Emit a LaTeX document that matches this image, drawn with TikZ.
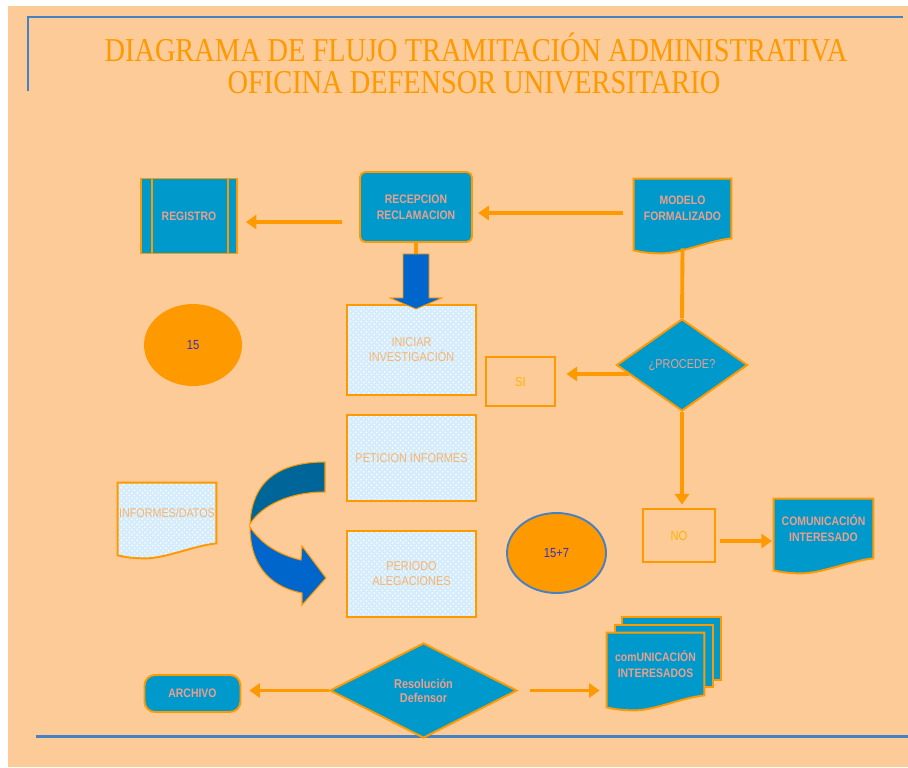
\documentclass[tikz,border=0pt]{standalone}
\usepackage{fontspec}
\setmainfont{Liberation Serif}
\newfontfamily\titlefont[FakeStretch=0.85]{Liberation Serif}
\newfontfamily\boxfont[FakeStretch=0.85]{Liberation Sans}
\usetikzlibrary{calc,positioning,shapes.geometric,arrows.meta,patterns,backgrounds}
\definecolor{peach}{RGB}{253,203,151}
\definecolor{flowor}{RGB}{255,153,0}
\definecolor{boxblue}{RGB}{0,153,204}
\definecolor{deepblue}{RGB}{0,102,153}
\definecolor{arrowblue}{RGB}{0,102,204}
\definecolor{rulerblue}{RGB}{70,130,195}
\definecolor{paleblue}{RGB}{212,236,251}
\definecolor{salmon}{RGB}{235,160,140}
\definecolor{lighttext}{RGB}{248,180,110}
\definecolor{yesno}{RGB}{255,180,0}
\definecolor{numblue}{RGB}{50,50,200}
% document outline with a wavy bottom, taken from a node's anchors
\newcommand{\docpath}[1]{(#1.north west) -- (#1.north east) -- (#1.south east)
  .. controls +(-25,3) and +(20,0) .. ($(#1.south west)+(28,15)$)
  .. controls +(-12,0) and +(8,2) .. ($(#1.south west)+(0,12)$) -- cycle}

\begin{document}
\begin{tikzpicture}[x=0.02cm, y=-0.02cm,
    flowline/.style={draw=flowor, line width=2.2pt},
    flowarrow/.style={flowline, -{Triangle[length=6pt,width=8pt]}},
    rule/.style={draw=rulerblue, line width=1.7pt},
    bluebox/.style={draw=flowor, line width=1.1pt, fill=boxblue, text=salmon,
      font=\boxfont\bfseries\fontsize{7}{9}\selectfont, align=center, inner sep=0pt},
    lightbox/.style={draw=flowor, line width=1.1pt, preaction={fill=paleblue},
      pattern=crosshatch dots, pattern color=white, text=lighttext,
      font=\boxfont\fontsize{7.3}{8.5}\selectfont, align=center, inner sep=0pt},
    doctext/.style={inner sep=0pt, align=center, text=salmon,
      font=\boxfont\bfseries\fontsize{7}{9}\selectfont},
    docblue/.style={draw=flowor, line width=1.1pt, fill=boxblue},
    doclight/.style={draw=flowor, line width=1.1pt, preaction={fill=paleblue},
      pattern=crosshatch dots, pattern color=white},
    emptybox/.style={draw=flowor, line width=1.1pt, text=yesno,
      font=\boxfont\fontsize{7.5}{9}\selectfont, inner sep=0pt},
    decision/.style={diamond, draw=flowor, line width=1.1pt, fill=boxblue, inner sep=0pt,
      text=salmon, align=center, font=\boxfont\fontsize{7.3}{8}\selectfont},
    daybubble/.style={ellipse, fill=flowor, inner sep=0pt, text=numblue,
      font=\boxfont\fontsize{7.5}{9}\selectfont},
    titlestyle/.style={text=flowor, inner sep=0pt, font=\titlefont\fontsize{19}{19}\selectfont}]
\useasboundingbox (0,0) rectangle (908,767);
\begin{scope}[on background layer]
    \fill[white] (0,0) rectangle (908,767);
    \fill[peach] (8,6) rectangle (908,767);
\end{scope}
% frame lines
\draw[rule] (28,91) -- (28,17) -- (903,17);
\draw[rule] (36,736) -- (908,736);
% title
\node[titlestyle, anchor=base] (titulo) at (476,62) {DIAGRAMA DE FLUJO TRAMITACIÓN ADMINISTRATIVA};
\node[titlestyle, anchor=base] (subtitulo) at (474,93) {OFICINA DEFENSOR UNIVERSITARIO};

% top row
\node[bluebox, minimum width=1.92cm, minimum height=1.5cm] (registro) at (189,216) {REGISTRO};
\draw[flowor, line width=1.1pt] ([xshift=0.24cm]registro.north west) -- ([xshift=0.24cm]registro.south west)
    ([xshift=-0.2cm]registro.north east) -- ([xshift=-0.2cm]registro.south east);
\node[bluebox, rounded corners=3pt, minimum width=2.24cm, minimum height=1.4cm] (recepcion) at (416,207) {RECEPCION\\RECLAMACION};
\node[doctext, minimum width=1.94cm, minimum height=1.18cm] (modelo) at (682.5,208.5) {MODELO\\FORMALIZADO};

% middle column
\node[lightbox, minimum width=2.58cm, minimum height=1.8cm] (iniciar) at (411.5,350) {INICIAR\\INVESTIGACIÓN};
\node[lightbox, minimum width=2.58cm, minimum height=1.72cm, below=0.36cm of iniciar] (peticion) {PETICION INFORMES};
\node[lightbox, minimum width=2.58cm, minimum height=1.72cm, below=0.56cm of peticion] (periodo) {PERIODO\\ALEGACIONES};

\node[daybubble, minimum width=1.96cm, minimum height=1.64cm] (quince) at (193,345) {15};
\node[daybubble, draw=rulerblue, line width=1.1pt, minimum width=1.98cm, minimum height=1.6cm] (plazo) at (556.5,553) {15+7};
\node[doctext, text=lighttext, font=\boxfont\fontsize{7.2}{8}\selectfont, minimum width=1.96cm, minimum height=1.2cm] (informes) at (167,513) {INFORMES/DATOS};

% right branch
\node[decision, minimum width=2.62cm, minimum height=1.84cm] (procede) at (682,365) {¿PROCEDE?};
\node[emptybox, minimum width=1.38cm, minimum height=0.98cm] (si) at (520.5,381.5) {SI};
\node[emptybox, minimum width=1.44cm, minimum height=1.06cm] (no) at (679,535.5) {NO};
\node[doctext, minimum width=1.98cm, minimum height=1.18cm] (comunicado) at (823.5,528.5) {COMUNICACIÓN\\INTERESADO};

% bottom row
\node[decision, font=\boxfont\bfseries\fontsize{7.3}{8}\selectfont, minimum width=3.74cm, minimum height=1.9cm] (resolucion) at (423.5,690.5) {Resolución\\Defensor};
\node[bluebox, rounded corners=6pt, minimum width=1.92cm, minimum height=0.74cm] (archivo) at (192.5,693.5) {ARCHIVO};
\node[doctext, minimum width=1.94cm, minimum height=1.24cm] (multidoc) at (655.5,664) {comUNICACIÓN\\INTERESADOS};

% document outlines behind their texts
\begin{scope}[on background layer]
    \draw[docblue] \docpath{modelo};
    \draw[doclight] \docpath{informes};
    \draw[docblue] \docpath{comunicado};
    \draw[docblue] ($(multidoc.north west)+(15,-16)$) rectangle ($(multidoc.north east)+(17,47)$);
    \draw[docblue] ($(multidoc.north west)+(8,-8)$) rectangle ($(multidoc.north east)+(9,54)$);
    \draw[docblue] \docpath{multidoc};
\end{scope}

% connectors
\coordinate (modelo out) at ([shift={(-11,4.5)}]modelo.west);
\coordinate (recepcion out) at ([shift={(-17,15)}]recepcion.west);
\coordinate (procede out) at ([shift={(13,9)}]procede.west);
\coordinate (no out) at ([shift={(4,5.5)}]no.east);
\coordinate (resolucion out) at ([xshift=0.24cm]resolucion.east);
\draw[flowarrow, shorten >=3pt] (modelo out) -- (modelo out -| recepcion.east);
\draw[flowarrow, shorten >=4.5pt] (recepcion out) -- (recepcion out -| registro.east);
\draw[flowline] (recepcion.south) -- ++(0,11);
\begin{scope}[shift={(recepcion.south)}]
    \filldraw[fill=arrowblue, draw=flowor, line width=0.5pt]
        (-13,11) -- (13,11) -- (13,55) -- (26,55) -- (0,66) -- (-26,55) -- (-13,55) -- cycle;
\end{scope}
\draw[flowline] ([yshift=-0.2cm]modelo.south) -- (procede.north);
\draw[flowarrow, shorten >=6pt] (procede out) -- (procede out -| si.east);
\draw[flowarrow, shorten >=2pt] (procede.south) -- (procede.south |- no.north);
\draw[flowarrow, shorten >=1pt] (no out) -- (no out -| comunicado.west);
\draw[flowarrow, shorten >=4.5pt] (resolucion.west) -- (resolucion.west -| archivo.east);
\draw[flowarrow, shorten >=4pt] (resolucion out) -- (resolucion out -| multidoc.west);

% turning arrow between the boxes
\filldraw[fill=deepblue, draw=flowor, line width=0.6pt]
    (325,462) .. controls (280,462) and (252,480) .. (250,524)
    .. controls (262,505) and (290,492) .. (325,492) -- cycle;
\filldraw[fill=arrowblue, draw=flowor, line width=0.6pt]
    (250,527) .. controls (262,545) and (280,555) .. (301,560) -- (302,546) -- (326,578)
    -- (302,605) -- (302,593) .. controls (275,588) and (250,570) .. (250,527) -- cycle;
\end{tikzpicture}
\end{document}
